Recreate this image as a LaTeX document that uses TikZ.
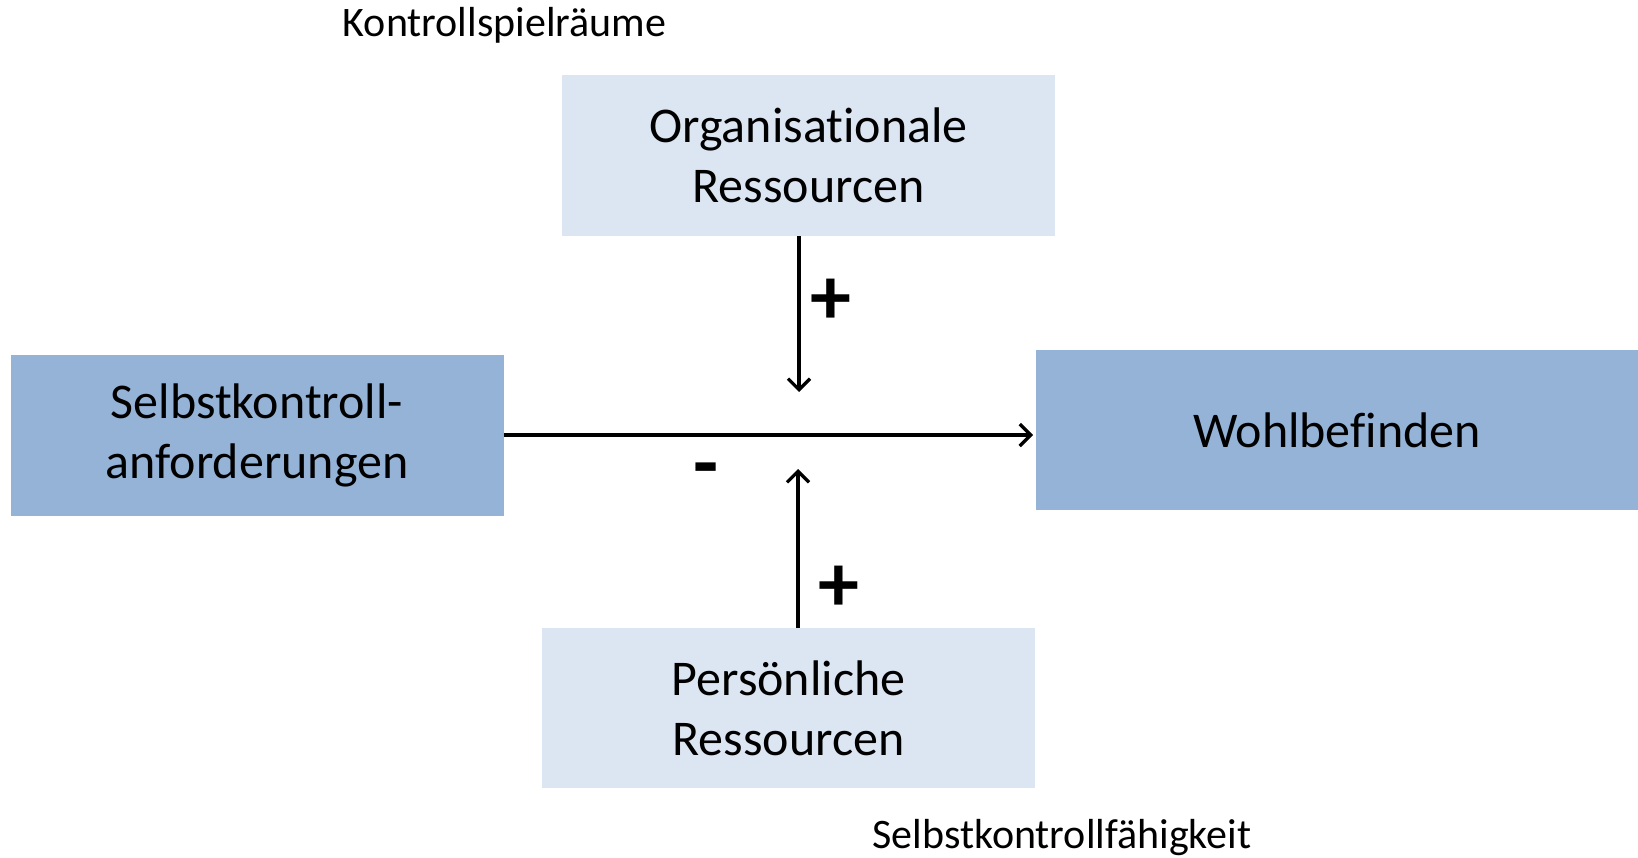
\documentclass[tikz,border=0pt]{standalone}
\usepackage{fontspec}
\setmainfont{Carlito}[Ligatures=NoCommon]
\usetikzlibrary{arrows.meta}
\definecolor{lightbox}{HTML}{DCE6F2}
\definecolor{darkbox}{HTML}{95B3D7}
\tikzset{
  boxtext/.style={font=\fontsize{50}{60}\selectfont, align=center},
  lightnode/.style={boxtext, fill=lightbox, inner sep=0pt},
  darknode/.style={boxtext, fill=darkbox, inner sep=0pt},
  plain/.style={font=\fontsize{42}{50}\selectfont, inner sep=0pt},
  sign/.style={font=\fontsize{82}{90}\selectfont\bfseries, inner sep=0pt},
  conn/.style={line width=3.2pt, -{Straight Barb[length=11pt,width=22pt,line width=3.2pt]}}
}
\begin{document}
\begin{tikzpicture}[x=1pt,y=-1pt]
\useasboundingbox (0,0) rectangle (1638,858);
\node[lightnode, minimum width=493pt, minimum height=161pt] (org) at (808.5,155.5) {Organisationale\\Ressourcen};
\node[darknode, minimum width=493pt, minimum height=161pt] (sel) at (257,435.5) {Selbstkontroll-\\anforderungen};
\node[darknode, minimum width=602pt, minimum height=160pt] (woh) at (1337,430) {Wohlbefinden};
\node[lightnode, minimum width=493pt, minimum height=160pt] (per) at (788.5,708) {Persönliche\\Ressourcen};
\node[plain] (kon) at (504.5,25) {Kontrollspielräume};
\node[plain] (fae) at (1062,838) {Selbstkontrollfähigkeit};
\coordinate (downend) at (799,392);
\coordinate (upend) at (798,469);
\coordinate (horend) at (1033,435);
\draw[conn] (sel.east |- horend) -- (horend);
\draw[conn] (org.south -| downend) -- (downend);
\draw[conn] (per.north -| upend) -- (upend);
\node[sign] (p1) at (830.5,302) {+};
\node[sign] (p2) at (838.5,589) {+};
\node[sign] (m1) at (706,477) {-};
\end{tikzpicture}
\end{document}
